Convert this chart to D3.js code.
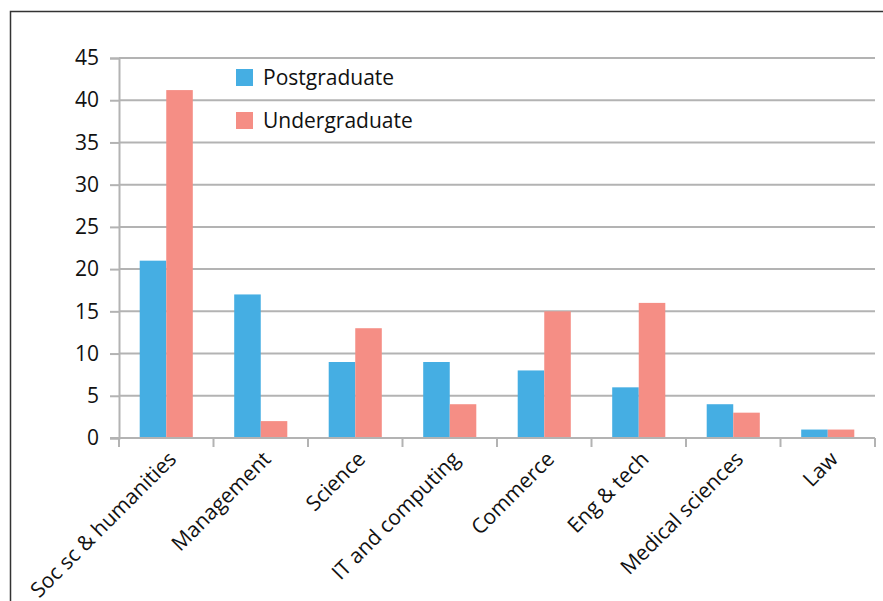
<!DOCTYPE html>
<html>
<head>
<meta charset="utf-8">
<script src="https://cdn.jsdelivr.net/npm/d3@7"></script>
<style>
  body { margin: 0; background: #fff; }
  text { font-family: "Open Sans", sans-serif; fill: #111; }
</style>
</head>
<body>
<script>
var categories = ["Soc sc & humanities", "Management", "Science", "IT and computing", "Commerce", "Eng & tech", "Medical sciences", "Law"];
var postgraduate = [21, 17, 9, 9, 8, 6, 4, 1];
var undergraduate = [41.2, 2, 13, 4, 15, 16, 3, 1];
var seriesNames = ["Postgraduate", "Undergraduate"];
var yTicks = [0, 5, 10, 15, 20, 25, 30, 35, 40, 45];

var width = 883, height = 601;
var colors = ["#45aee3", "#f58e85"];

var svg = d3.select("body").append("svg").attr("width", width).attr("height", height);

// outer frame
svg.append("rect")
  .attr("x", 10.5).attr("y", 11.5)
  .attr("width", width + 20).attr("height", height + 20)
  .attr("fill", "none").attr("stroke", "#333").attr("stroke-width", 1.5);

var plotLeft = 119, plotRight = 875, plotTop = 58, plotBottom = 438;

var x = d3.scaleBand().domain(categories).range([plotLeft, plotRight]);
var xInner = d3.scaleBand().domain(seriesNames).range([0, x.bandwidth()]).paddingInner(0).paddingOuter(0.78);
var y = d3.scaleLinear().domain([0, 45]).range([plotBottom, plotTop]);

// gridlines
svg.append("g").selectAll("line").data(yTicks.slice(1)).enter().append("line")
  .attr("x1", plotLeft).attr("x2", plotRight)
  .attr("y1", function(d) { return y(d); }).attr("y2", function(d) { return y(d); })
  .attr("stroke", "#b3b3b3").attr("stroke-width", 2);

// bars
var rows = categories.map(function(c, i) { return {cat: c, vals: [postgraduate[i], undergraduate[i]]}; });
var groups = svg.append("g").selectAll("g").data(rows).enter().append("g")
  .attr("transform", function(d) { return "translate(" + x(d.cat) + ",0)"; });
groups.selectAll("rect").data(function(d) { return d.vals; }).enter().append("rect")
  .attr("x", function(d, i) { return xInner(seriesNames[i]); })
  .attr("width", xInner.bandwidth())
  .attr("y", function(d) { return y(d); })
  .attr("height", function(d) { return plotBottom - y(d); })
  .attr("fill", function(d, i) { return colors[i]; });

// y axis
var yAxis = svg.append("g").attr("transform", "translate(" + plotLeft + ",0)")
  .call(d3.axisLeft(y).tickValues(yTicks).tickSize(9).tickPadding(11));
yAxis.select(".domain").attr("stroke", "#b3b3b3").attr("stroke-width", 2);
yAxis.selectAll(".tick line").attr("stroke", "#b3b3b3").attr("stroke-width", 2);
yAxis.selectAll(".tick text").style("font-size", "21px").style("font-family", "Open Sans, sans-serif").attr("fill", "#111");

// x axis
var xAxis = svg.append("g").attr("transform", "translate(0," + plotBottom + ")");
xAxis.append("line").attr("x1", plotLeft - 9).attr("x2", plotRight).attr("y1", 0).attr("y2", 0)
  .attr("stroke", "#b3b3b3").attr("stroke-width", 2);
xAxis.selectAll("line.tk").data(d3.range(categories.length + 1)).enter().append("line")
  .attr("class", "tk")
  .attr("x1", function(i) { return plotLeft + i * x.step(); })
  .attr("x2", function(i) { return plotLeft + i * x.step(); })
  .attr("y1", 0).attr("y2", 9)
  .attr("stroke", "#b3b3b3").attr("stroke-width", 2);
xAxis.selectAll("text").data(categories).enter().append("text")
  .attr("transform", function(d) { return "translate(" + (x(d) + x.bandwidth() / 2 + 1) + ",12) rotate(-45)"; })
  .attr("text-anchor", "end")
  .attr("dy", "0.7em")
  .style("font-size", "21px")
  .text(function(d) { return d; });

// legend
var legend = svg.append("g").selectAll("g").data(seriesNames).enter().append("g")
  .attr("transform", function(d, i) { return "translate(236," + (69 + i * 43) + ")"; });
legend.append("rect").attr("width", 17).attr("height", 17)
  .attr("fill", function(d, i) { return colors[i]; });
legend.append("text").attr("x", 27).attr("y", 9).attr("dy", "0.35em")
  .style("font-size", "21px")
  .text(function(d) { return d; });
</script>
</body>
</html>
